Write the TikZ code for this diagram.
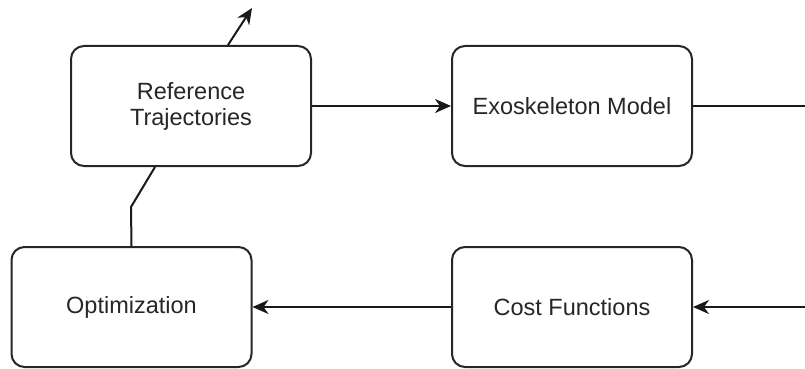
\documentclass[tikz,border=0pt]{standalone}
\usepackage{fontspec}
\setmainfont{Liberation Sans}
\usetikzlibrary{arrows.meta}
\begin{document}
\begin{tikzpicture}[x=1pt,y=-1pt,
  block/.style={draw=black!85, line width=2pt, rounded corners=13pt,
    minimum width=240pt, minimum height=120pt, align=center,
    font=\fontsize{23.5}{26}\selectfont, text=black!85},
  link/.style={draw=black!90, line width=2pt},
  arr/.style={link, -{Stealth[length=16pt,width=14pt,inset=5pt]}}]
  \useasboundingbox (0,0) rectangle (805,369);
  \node[block] (ref) at (191,106) {Reference\\Trajectories};
  \node[block] (exo) at (572,106) {Exoskeleton Model};
  \node[block] (opt) at (131.5,307) {Optimization};
  \node[block] (cost) at (572,307) {Cost Functions};
  \coordinate (outR) at (805,106);
  \coordinate (inR) at (805,307);
  \coordinate (up) at (252,8);
  \coordinate (bend) at (131,207);
  \draw[arr] (ref) -- (exo);
  \draw[link] (exo) -- (outR);
  \draw[arr] (inR) -- (cost);
  \draw[arr] (cost) -- (opt);
  \draw[link] (opt.north) -- (bend) -- (ref.south -| 155,0);
  \draw[arr] (ref.north -| 228,0) -- (up);
\end{tikzpicture}
\end{document}
